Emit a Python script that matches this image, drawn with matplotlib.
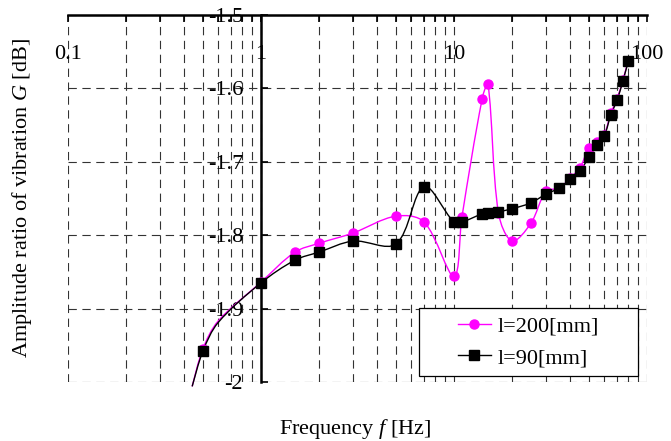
import numpy as np
import matplotlib
matplotlib.use("Agg")
import matplotlib.pyplot as plt
from matplotlib.path import Path
from matplotlib.patches import PathPatch, Rectangle
from matplotlib.lines import Line2D
from matplotlib.ticker import FixedLocator, FixedFormatter, LogLocator, NullFormatter

plt.rcParams['font.family'] = ['Liberation Serif', 'DejaVu Serif']
plt.rcParams['font.size'] = 16
plt.rcParams['mathtext.fontset'] = 'custom'
plt.rcParams['mathtext.rm'] = 'Liberation Serif'
plt.rcParams['mathtext.it'] = 'Liberation Serif:italic'
plt.rcParams['axes.unicode_minus'] = False
plt.rcParams['lines.scale_dashes'] = False

# l=200 mm
f_200 = [0.44, 0.5, 0.6, 1, 1.5, 2, 3, 5, 7, 10, 11, 14, 15, 17, 20, 25,
         30, 35, 40, 45, 50, 55, 60, 65, 70, 75, 80]
g_200 = [-2.006, -1.955, -1.917, -1.864, -1.823, -1.811, -1.797, -1.774, -1.782,
         -1.856, -1.775, -1.614, -1.594, -1.770, -1.808, -1.784,
         -1.740, -1.736, -1.722, -1.708, -1.681, -1.673, -1.663, -1.634, -1.614,
         -1.589, -1.562]
# l=90 mm
f_90 = [0.44, 0.5, 0.6, 1, 1.5, 2, 3, 5, 7, 10, 11, 14, 15, 17, 20, 25,
        30, 35, 40, 45, 50, 55, 60, 65, 70, 75, 80]
g_90 = [-2.006, -1.958, -1.919, -1.865, -1.834, -1.823, -1.808, -1.812, -1.734,
        -1.782, -1.782, -1.771, -1.770, -1.768, -1.764, -1.756,
        -1.744, -1.736, -1.724, -1.713, -1.693, -1.677, -1.665, -1.636, -1.616,
        -1.590, -1.563]
unmarked = [0, 2]

x_ticks = [0.1, 1, 10, 100]
x_labels = ['0.1', '1', '10', '100']
y_ticks = [-2, -1.9, -1.8, -1.7, -1.6, -1.5]
y_labels = ['-2', '-1.9', '-1.8', '-1.7', '-1.6', '-1.5']


def smooth_path(xs, ys, sx=193.0, sy=734.0):
    # smoothed line like the spreadsheet one: cubic Bezier through every point,
    # tangents scaled by segment length (measured roughly in screen pixels)
    p = np.column_stack([np.log10(xs) * sx, np.array(ys) * sy])
    n = len(p)
    d = np.hypot(*np.diff(p, axis=0).T)
    m = np.zeros_like(p)
    for i in range(n):
        a = p[i - 1] if i > 0 else p[i]
        b = p[i + 1] if i < n - 1 else p[i]
        m[i] = b - a
    verts = [p[0]]
    codes = [Path.MOVETO]
    for i in range(n - 1):
        dl = d[i - 1] if i > 0 else d[i]
        dr = d[i + 1] if i + 1 < n - 1 else d[i]
        c1 = p[i] + m[i] * d[i] / (3 * (dl + d[i]))
        c2 = p[i + 1] - m[i + 1] * d[i] / (3 * (d[i] + dr))
        verts += [c1, c2, p[i + 1]]
        codes += [Path.CURVE4] * 3
    verts = np.array(verts)
    verts[:, 0] = 10 ** (verts[:, 0] / sx)
    verts[:, 1] = verts[:, 1] / sy
    return Path(verts, codes)


fig = plt.figure(figsize=(6.71, 4.41), dpi=100)
ax = fig.add_axes([0.1013, 0.1338, 0.8629, 0.8322])
ax.set_xscale('log')
ax.set_xlim(0.1, 100)
ax.set_ylim(-2, -1.5)

series = [(f_200, g_200, '#FF00FF', 'o', 'l=200[mm]'),
          (f_90, g_90, 'black', 's', 'l=90[mm]')]
handles = []
for f, g, c, m, lab in series:
    ax.add_patch(PathPatch(smooth_path(f, g), fill=False, edgecolor=c, lw=1.0,
                           clip_on=False, zorder=3))
    keep = [i for i in range(len(f)) if i not in unmarked]
    ax.plot(f, g, ls='none', marker=m, color=c, markersize=6.5,
            markevery=keep, zorder=4)
    handles.append(Line2D([], [], color=c, marker=m, markersize=6.5, lw=1.0, label=lab))

# axes: solid top line, vertical axis at f=1
ax.spines['bottom'].set_visible(False)
ax.spines['right'].set_visible(False)
ax.spines['top'].set_linewidth(1.8)
ax.spines['left'].set_position(('data', 1))
ax.spines['left'].set_linewidth(1.8)

ax.xaxis.set_ticks_position('top')
ax.xaxis.set_major_locator(FixedLocator(x_ticks))
ax.xaxis.set_major_formatter(FixedFormatter(x_labels))
ax.xaxis.set_minor_locator(LogLocator(base=10, subs=np.arange(2, 10)))
ax.xaxis.set_minor_formatter(NullFormatter())
ax.tick_params(axis='x', which='both', direction='in', length=5, width=1.2,
               labeltop=True, labelbottom=False, pad=-35, labelsize=16)

ax.yaxis.set_major_locator(FixedLocator(y_ticks))
ax.yaxis.set_major_formatter(FixedFormatter(y_labels))
ax.tick_params(axis='y', which='major', direction='in', length=5, width=1.2,
               pad=13, labelsize=16)

ax.set_axisbelow(True)
ax.grid(True, which='both', axis='x', color='#333333', lw=0.8, linestyle=(0, (6, 4)))
ax.grid(True, which='major', axis='y', color='#333333', lw=0.8, linestyle=(0, (6, 4)))

ax.set_xlabel('Frequency $f$ [Hz]', fontsize=16)
ax.xaxis.set_label_position('bottom')
ax.xaxis.set_label_coords(0.496, -0.095)
ax.set_ylabel('Amplitude ratio of vibration $G$ [dB]', fontsize=16)
ax.yaxis.set_label_coords(-0.058, 0.5)

# legend box with the entries centred inside it
box = (0.606, 0.016, 0.378, 0.186)
ax.add_patch(Rectangle(box[:2], box[2], box[3], transform=ax.transAxes,
                       facecolor='white', edgecolor='black', lw=0.9, zorder=5))
leg = ax.legend(handles=handles, loc='center', bbox_to_anchor=box,
                frameon=False, borderaxespad=0, borderpad=0.35, labelspacing=0.5,
                handlelength=1.5, handletextpad=0.3, fontsize=16)
leg.set_zorder(6)

fig.savefig('out.png', dpi=100)
